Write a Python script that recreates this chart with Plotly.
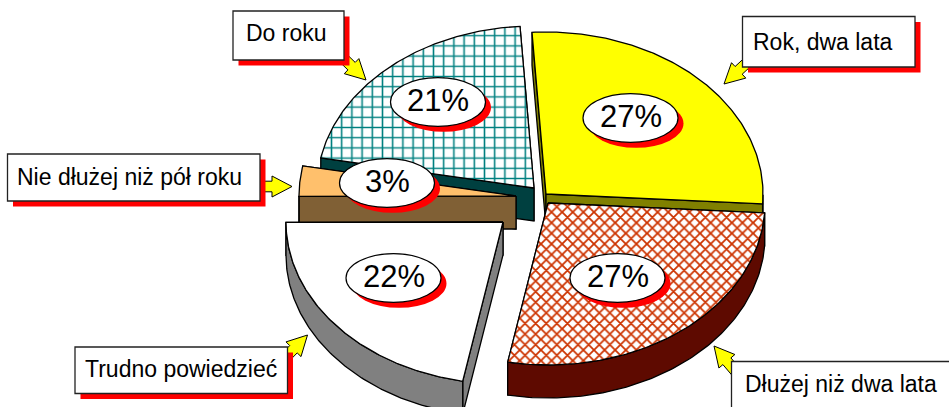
import numpy as np
import plotly.graph_objects as go

# ---- data (clockwise from the start angle) ----
categories = ["Rok, dwa lata", "Dłużej niż dwa lata", "Trudno powiedzieć",
              "Nie dłużej niż pół roku", "Do roku"]
values = [27, 27, 22, 3, 21]
top_colors = ["#FFFF00", "#FFFFFF", "#FFFFFF", "#FFC06C", "#FFFFFF"]
side_colors = ["#808000", "#5E0A00", "#808080", "#806035", "#004040"]
patterns = [None, "x", None, None, "+"]
pattern_colors = [None, "#CC3300", None, None, "#008080"]
pattern_sizes = [None, 7.5, None, None, 10.2]
pattern_solidity = [None, 0.42, None, None, 0.28]

# ---- pie geometry (pixel-scale axes) ----
W, H = 949, 407
START = 93.7
RX, RY, DEPTH = 217.0, 162.0, 33.0
explode_apex = [(546, 194), (548, 203), (503, 222), (516, 196), (534, 188)]
draw_order = [4, 0, 3, 1, 2]
label_centers = [(630.5, 118), (617.5, 278), (393.5, 278), (387, 183), (438, 102)]
EL_RX, EL_RY = 47.5, 24.3
SHADOW = 5.5

angles = START - np.cumsum([0] + values) * 3.6
fig = go.Figure()
LINE = dict(color="black", width=1.3)


def poly(xs, ys, color, pattern=None, pcolor=None, psize=None, solidity=None):
    kw = dict(x=list(xs) + [xs[0]], y=list(ys) + [ys[0]], mode="lines", fill="toself",
              fillcolor=color, line=LINE, hoverinfo="skip", showlegend=False)
    if pattern:
        kw["fillpattern"] = dict(shape=pattern, size=psize, solidity=solidity, fgcolor=pcolor,
                                 bgcolor=color, fgopacity=1, fillmode="replace")
    fig.add_trace(go.Scatter(**kw))


for i in draw_order:
    ax, ay = explode_apex[i]
    deg = np.linspace(angles[i], angles[i + 1], 120)
    t = np.radians(deg)
    ex = ax + RX * np.cos(t)
    ey = ay - RY * np.sin(t)
    # radial faces, the one reaching lower on the page goes last
    for k in sorted((0, -1), key=lambda k: ey[k]):
        poly([ax, ex[k], ex[k], ax], [ay, ey[k], ey[k] + DEPTH, ay + DEPTH], side_colors[i])
    # outer wall: only the front-facing part of the rim
    front = np.sin(t) <= 0
    if front.sum() > 1:
        fx, fy = ex[front], ey[front]
        poly(np.r_[fx, fx[::-1]], np.r_[fy, fy[::-1] + DEPTH], side_colors[i])
    # top face
    poly(np.r_[ax, ex], np.r_[ay, ey], top_colors[i], patterns[i], pattern_colors[i],
         pattern_sizes[i], pattern_solidity[i])

# ---- callouts ----
callouts = [
    # box x0,x1,y0,y1, text x,y, arrow tip, arrow base
    (742.5, 915, 16.5, 67, 751, 42, (724, 84), (752, 58)),
    (731.5, 970, 361.5, 430, 742.5, 384, (714, 346), (742, 379)),
    (75, 287.5, 347, 393.5, 83, 369, (307.5, 335), (280, 363)),
    (7.5, 260, 154, 201, 14.5, 176.5, (292, 186.5), (255, 186.5)),
    (233, 344, 11, 60, 243.5, 33, (366, 80), (340, 55)),
]
HEAD_L, HEAD_W, SHAFT_W = 20.0, 21.0, 10.5
shapes = []
annotations = []


def arrow_path(tip, base):
    tip, base = np.array(tip, float), np.array(base, float)
    d = (base - tip) / np.linalg.norm(base - tip)
    n = np.array([-d[1], d[0]])
    neck = tip + d * HEAD_L
    pts = [tip, neck + n * HEAD_W / 2, neck + n * SHAFT_W / 2, base + n * SHAFT_W / 2,
           base - n * SHAFT_W / 2, neck - n * SHAFT_W / 2, neck - n * HEAD_W / 2]
    return "M" + " L".join(f"{p[0]:.1f},{p[1]:.1f}" for p in pts) + " Z"


for name, (x0, x1, y0, y1, tx, ty, tip, base) in zip(categories, callouts):
    shapes.append(dict(type="path", path=arrow_path(tip, base), fillcolor="#FFFF00",
                       line=dict(color="black", width=1), layer="above"))
    shapes.append(dict(type="rect", x0=x0 + SHADOW, x1=x1 + SHADOW, y0=y0 + SHADOW, y1=y1 + SHADOW,
                       fillcolor="#FF0000", line=dict(width=0), layer="above"))
    shapes.append(dict(type="rect", x0=x0, x1=x1, y0=y0, y1=y1, fillcolor="white",
                       line=dict(color="#222222", width=1.3), layer="above"))
    annotations.append(dict(x=tx, y=ty, text=name, xanchor="left", yanchor="middle", showarrow=False,
                            font=dict(family="Liberation Sans", size=23, color="black")))

# ---- percentage labels ----
for v, (cx, cy) in zip(values, label_centers):
    shapes.append(dict(type="circle", x0=cx - EL_RX + SHADOW, x1=cx + EL_RX + SHADOW,
                       y0=cy - EL_RY + SHADOW, y1=cy + EL_RY + SHADOW,
                       fillcolor="#FF0000", line=dict(width=0), layer="above"))
    shapes.append(dict(type="circle", x0=cx - EL_RX, x1=cx + EL_RX, y0=cy - EL_RY, y1=cy + EL_RY,
                       fillcolor="white", line=dict(color="black", width=1.2), layer="above"))
    annotations.append(dict(x=cx, y=cy - 2, text=f"{v}%", xanchor="center", yanchor="middle", showarrow=False,
                            font=dict(family="Liberation Sans", size=31, color="black")))

fig.update_layout(
    width=W, height=H, autosize=False, margin=dict(l=0, r=0, t=0, b=0),
    paper_bgcolor="white", plot_bgcolor="white", shapes=shapes, annotations=annotations,
    xaxis=dict(range=[0, W], visible=False, fixedrange=True),
    yaxis=dict(range=[H, 0], visible=False, fixedrange=True),
)
fig.write_html("out.html", config=dict(displayModeBar=False),
               post_script="document.body.style.margin='0';document.body.style.overflow='hidden';")
